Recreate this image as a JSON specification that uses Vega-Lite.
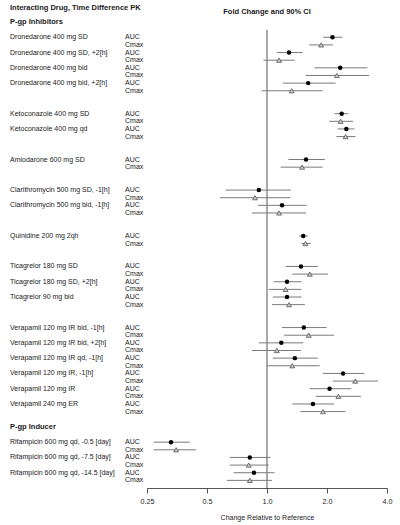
{
  "$schema": "https://vega.github.io/schema/vega-lite/v6.json",
  "padding": {"left": 10, "top": 3, "right": 5, "bottom": 2},
  "background": "white",
  "bounds": "flush",
  "spacing": 22,
  "config": {
    "font": "Liberation Sans",
    "view": {"stroke": null},
    "title": {"fontSize": 7.5, "fontWeight": "bold", "color": "#1a1a1a", "offset": 7}
  },
  "datasets": {
    "pk": [
      {"drug": "Dronedarone 400 mg SD", "pk": "AUC", "est": 2.13, "lo": 1.91, "hi": 2.39},
      {"drug": "Dronedarone 400 mg SD", "pk": "Cmax", "est": 1.87, "lo": 1.63, "hi": 2.14},
      {"drug": "Dronedarone 400 mg SD, +2[h]", "pk": "AUC", "est": 1.29, "lo": 1.12, "hi": 1.51},
      {"drug": "Dronedarone 400 mg SD, +2[h]", "pk": "Cmax", "est": 1.15, "lo": 0.96, "hi": 1.38},
      {"drug": "Dronedarone 400 mg bid", "pk": "AUC", "est": 2.33, "lo": 1.73, "hi": 3.19},
      {"drug": "Dronedarone 400 mg bid", "pk": "Cmax", "est": 2.24, "lo": 1.56, "hi": 3.25},
      {"drug": "Dronedarone 400 mg bid, +2[h]", "pk": "AUC", "est": 1.61, "lo": 1.2, "hi": 2.21},
      {"drug": "Dronedarone 400 mg bid, +2[h]", "pk": "Cmax", "est": 1.33, "lo": 0.94, "hi": 1.9},
      {"drug": "Ketoconazole 400 mg SD", "pk": "AUC", "est": 2.37, "lo": 2.18, "hi": 2.56},
      {"drug": "Ketoconazole 400 mg SD", "pk": "Cmax", "est": 2.34, "lo": 2.05, "hi": 2.7},
      {"drug": "Ketoconazole 400 mg qd", "pk": "AUC", "est": 2.5, "lo": 2.26, "hi": 2.75},
      {"drug": "Ketoconazole 400 mg qd", "pk": "Cmax", "est": 2.48, "lo": 2.23, "hi": 2.78},
      {"drug": "Amiodarone 600 mg SD", "pk": "AUC", "est": 1.57, "lo": 1.28, "hi": 1.95},
      {"drug": "Amiodarone 600 mg SD", "pk": "Cmax", "est": 1.5, "lo": 1.17, "hi": 1.9},
      {"drug": "Clarithromycin 500 mg SD, -1[h]", "pk": "AUC", "est": 0.91, "lo": 0.62, "hi": 1.32},
      {"drug": "Clarithromycin 500 mg SD, -1[h]", "pk": "Cmax", "est": 0.87, "lo": 0.58, "hi": 1.31},
      {"drug": "Clarithromycin 500 mg bid, -1[h]", "pk": "AUC", "est": 1.19, "lo": 0.9, "hi": 1.58},
      {"drug": "Clarithromycin 500 mg bid, -1[h]", "pk": "Cmax", "est": 1.15, "lo": 0.84, "hi": 1.57},
      {"drug": "Quinidine 200 mg 2qh", "pk": "AUC", "est": 1.52, "lo": 1.45, "hi": 1.61},
      {"drug": "Quinidine 200 mg 2qh", "pk": "Cmax", "est": 1.56, "lo": 1.49, "hi": 1.66},
      {"drug": "Ticagrelor 180 mg SD", "pk": "AUC", "est": 1.48, "lo": 1.24, "hi": 1.8},
      {"drug": "Ticagrelor 180 mg SD", "pk": "Cmax", "est": 1.64, "lo": 1.34, "hi": 2.02},
      {"drug": "Ticagrelor 180 mg SD, +2[h]", "pk": "AUC", "est": 1.26, "lo": 1.08, "hi": 1.49},
      {"drug": "Ticagrelor 180 mg SD, +2[h]", "pk": "Cmax", "est": 1.24, "lo": 1.02, "hi": 1.49},
      {"drug": "Ticagrelor 90 mg bid", "pk": "AUC", "est": 1.26, "lo": 1.07, "hi": 1.49},
      {"drug": "Ticagrelor 90 mg bid", "pk": "Cmax", "est": 1.29, "lo": 1.06, "hi": 1.55},
      {"drug": "Verapamil 120 mg IR bid, -1[h]", "pk": "AUC", "est": 1.53, "lo": 1.19, "hi": 1.99},
      {"drug": "Verapamil 120 mg IR bid, -1[h]", "pk": "Cmax", "est": 1.62, "lo": 1.22, "hi": 2.17},
      {"drug": "Verapamil 120 mg IR bid, +2[h]", "pk": "AUC", "est": 1.18, "lo": 0.91, "hi": 1.52},
      {"drug": "Verapamil 120 mg IR bid, +2[h]", "pk": "Cmax", "est": 1.12, "lo": 0.84, "hi": 1.48},
      {"drug": "Verapamil 120 mg IR qd, -1[h]", "pk": "AUC", "est": 1.38, "lo": 1.07, "hi": 1.8},
      {"drug": "Verapamil 120 mg IR qd, -1[h]", "pk": "Cmax", "est": 1.34, "lo": 1.0, "hi": 1.84},
      {"drug": "Verapamil 120 mg IR, -1[h]", "pk": "AUC", "est": 2.41, "lo": 1.91, "hi": 3.08},
      {"drug": "Verapamil 120 mg IR, -1[h]", "pk": "Cmax", "est": 2.77, "lo": 2.14, "hi": 3.61},
      {"drug": "Verapamil 120 mg IR", "pk": "AUC", "est": 2.06, "lo": 1.64, "hi": 2.64},
      {"drug": "Verapamil 120 mg IR", "pk": "Cmax", "est": 2.28, "lo": 1.76, "hi": 2.96},
      {"drug": "Verapamil 240 mg ER", "pk": "AUC", "est": 1.7, "lo": 1.34, "hi": 2.17},
      {"drug": "Verapamil 240 mg ER", "pk": "Cmax", "est": 1.91, "lo": 1.47, "hi": 2.47},
      {"drug": "Rifampicin 600 mg qd, -0.5 [day]", "pk": "AUC", "est": 0.33, "lo": 0.27, "hi": 0.41},
      {"drug": "Rifampicin 600 mg qd, -0.5 [day]", "pk": "Cmax", "est": 0.35, "lo": 0.27, "hi": 0.44},
      {"drug": "Rifampicin 600 mg qd, -7.5 [day]", "pk": "AUC", "est": 0.82, "lo": 0.65, "hi": 1.04},
      {"drug": "Rifampicin 600 mg qd, -7.5 [day]", "pk": "Cmax", "est": 0.81, "lo": 0.65, "hi": 1.02},
      {"drug": "Rifampicin 600 mg qd, -14.5 [day]", "pk": "AUC", "est": 0.86, "lo": 0.68, "hi": 1.09},
      {"drug": "Rifampicin 600 mg qd, -14.5 [day]", "pk": "Cmax", "est": 0.82, "lo": 0.63, "hi": 1.06}
    ],
    "groups": [
      {"header": "P-gp Inhibitors"},
      {"header": "P-gp Inducer"}
    ],
    "reference": [
      {"ref": 1}
    ]
  },
  "hconcat": [
    {
      "title": {"text": "Interacting Drug, Time Difference PK", "anchor": "start"},
      "width": 115,
      "height": 466,
      "layer": [
        {
          "data": {"name": "pk"},
          "transform": [
            {"filter": "datum.pk == 'AUC'"},
            {"calculate": "datum.drug + '|' + datum.pk", "as": "key"}
          ],
          "mark": {"type": "text", "align": "left", "baseline": "middle", "fontSize": 7, "color": "#1a1a1a"},
          "encoding": {
            "x": {"datum": "name", "type": "nominal", "scale": {"type": "point", "domain": ["name", "pk"], "padding": 0}, "axis": null},
            "y": {
              "field": "key", "type": "nominal", "axis": null,
              "scale": {"type": "point", "padding": 0, "domain": [
                "P-gp Inhibitors", "_top",
                "Dronedarone 400 mg SD|AUC", "Dronedarone 400 mg SD|Cmax",
                "Dronedarone 400 mg SD, +2[h]|AUC", "Dronedarone 400 mg SD, +2[h]|Cmax",
                "Dronedarone 400 mg bid|AUC", "Dronedarone 400 mg bid|Cmax",
                "Dronedarone 400 mg bid, +2[h]|AUC", "Dronedarone 400 mg bid, +2[h]|Cmax",
                "_g1", "_g2",
                "Ketoconazole 400 mg SD|AUC", "Ketoconazole 400 mg SD|Cmax",
                "Ketoconazole 400 mg qd|AUC", "Ketoconazole 400 mg qd|Cmax",
                "_g3", "_g4",
                "Amiodarone 600 mg SD|AUC", "Amiodarone 600 mg SD|Cmax",
                "_g5", "_g6",
                "Clarithromycin 500 mg SD, -1[h]|AUC", "Clarithromycin 500 mg SD, -1[h]|Cmax",
                "Clarithromycin 500 mg bid, -1[h]|AUC", "Clarithromycin 500 mg bid, -1[h]|Cmax",
                "_g7", "_g8",
                "Quinidine 200 mg 2qh|AUC", "Quinidine 200 mg 2qh|Cmax",
                "_g9", "_g10",
                "Ticagrelor 180 mg SD|AUC", "Ticagrelor 180 mg SD|Cmax",
                "Ticagrelor 180 mg SD, +2[h]|AUC", "Ticagrelor 180 mg SD, +2[h]|Cmax",
                "Ticagrelor 90 mg bid|AUC", "Ticagrelor 90 mg bid|Cmax",
                "_g11", "_g12",
                "Verapamil 120 mg IR bid, -1[h]|AUC", "Verapamil 120 mg IR bid, -1[h]|Cmax",
                "Verapamil 120 mg IR bid, +2[h]|AUC", "Verapamil 120 mg IR bid, +2[h]|Cmax",
                "Verapamil 120 mg IR qd, -1[h]|AUC", "Verapamil 120 mg IR qd, -1[h]|Cmax",
                "Verapamil 120 mg IR, -1[h]|AUC", "Verapamil 120 mg IR, -1[h]|Cmax",
                "Verapamil 120 mg IR|AUC", "Verapamil 120 mg IR|Cmax",
                "Verapamil 240 mg ER|AUC", "Verapamil 240 mg ER|Cmax",
                "_g13", "P-gp Inducer", "_g14",
                "Rifampicin 600 mg qd, -0.5 [day]|AUC", "Rifampicin 600 mg qd, -0.5 [day]|Cmax",
                "Rifampicin 600 mg qd, -7.5 [day]|AUC", "Rifampicin 600 mg qd, -7.5 [day]|Cmax",
                "Rifampicin 600 mg qd, -14.5 [day]|AUC", "Rifampicin 600 mg qd, -14.5 [day]|Cmax",
                "_bottom"
              ]}
            },
            "text": {"field": "drug"}
          }
        },
        {
          "data": {"name": "pk"},
          "transform": [
            {"calculate": "datum.drug + '|' + datum.pk", "as": "key"}
          ],
          "mark": {"type": "text", "align": "left", "baseline": "middle", "fontSize": 7, "color": "#1a1a1a"},
          "encoding": {
            "x": {"datum": "pk", "type": "nominal"},
            "y": {"field": "key", "type": "nominal"},
            "text": {"field": "pk"}
          }
        },
        {
          "data": {"name": "groups"},
          "mark": {"type": "text", "align": "left", "baseline": "middle", "fontSize": 7.5, "fontWeight": "bold", "color": "#1a1a1a"},
          "encoding": {
            "x": {"datum": "name", "type": "nominal"},
            "y": {"field": "header", "type": "nominal"},
            "text": {"field": "header"}
          }
        }
      ]
    },
    {
      "title": {"text": "Fold Change and 90% CI", "anchor": "middle"},
      "width": 240,
      "height": 466,
      "layer": [
        {
          "data": {"name": "reference"},
          "mark": {"type": "rule", "color": "#555555", "strokeWidth": 1},
          "encoding": {
            "x": {
              "field": "ref", "type": "quantitative",
              "scale": {"type": "log", "base": 2, "domain": [0.25, 4], "nice": false},
              "axis": {
                "values": [0.25, 0.5, 1, 2, 4],
                "labelExpr": "datum.value < 0.4 ? '0.25' : format(datum.value, '.1f')",
                "labelFlush": false,
                "labelOverlap": false,
                "title": "Change Relative to Reference",
                "grid": false,
                "domainColor": "#555555",
                "tickColor": "#555555",
                "tickSize": 5,
                "labelPadding": 4,
                "labelFontSize": 7.2,
                "labelColor": "#1a1a1a",
                "titleFontSize": 7,
                "titleFontWeight": "normal",
                "titleColor": "#1a1a1a",
                "titlePadding": 9
              }
            },
            "y": {
              "datum": "_top", "type": "nominal", "axis": null,
              "scale": {"type": "point", "padding": 0, "domain": [
                "P-gp Inhibitors", "_top",
                "Dronedarone 400 mg SD|AUC", "Dronedarone 400 mg SD|Cmax",
                "Dronedarone 400 mg SD, +2[h]|AUC", "Dronedarone 400 mg SD, +2[h]|Cmax",
                "Dronedarone 400 mg bid|AUC", "Dronedarone 400 mg bid|Cmax",
                "Dronedarone 400 mg bid, +2[h]|AUC", "Dronedarone 400 mg bid, +2[h]|Cmax",
                "_g1", "_g2",
                "Ketoconazole 400 mg SD|AUC", "Ketoconazole 400 mg SD|Cmax",
                "Ketoconazole 400 mg qd|AUC", "Ketoconazole 400 mg qd|Cmax",
                "_g3", "_g4",
                "Amiodarone 600 mg SD|AUC", "Amiodarone 600 mg SD|Cmax",
                "_g5", "_g6",
                "Clarithromycin 500 mg SD, -1[h]|AUC", "Clarithromycin 500 mg SD, -1[h]|Cmax",
                "Clarithromycin 500 mg bid, -1[h]|AUC", "Clarithromycin 500 mg bid, -1[h]|Cmax",
                "_g7", "_g8",
                "Quinidine 200 mg 2qh|AUC", "Quinidine 200 mg 2qh|Cmax",
                "_g9", "_g10",
                "Ticagrelor 180 mg SD|AUC", "Ticagrelor 180 mg SD|Cmax",
                "Ticagrelor 180 mg SD, +2[h]|AUC", "Ticagrelor 180 mg SD, +2[h]|Cmax",
                "Ticagrelor 90 mg bid|AUC", "Ticagrelor 90 mg bid|Cmax",
                "_g11", "_g12",
                "Verapamil 120 mg IR bid, -1[h]|AUC", "Verapamil 120 mg IR bid, -1[h]|Cmax",
                "Verapamil 120 mg IR bid, +2[h]|AUC", "Verapamil 120 mg IR bid, +2[h]|Cmax",
                "Verapamil 120 mg IR qd, -1[h]|AUC", "Verapamil 120 mg IR qd, -1[h]|Cmax",
                "Verapamil 120 mg IR, -1[h]|AUC", "Verapamil 120 mg IR, -1[h]|Cmax",
                "Verapamil 120 mg IR|AUC", "Verapamil 120 mg IR|Cmax",
                "Verapamil 240 mg ER|AUC", "Verapamil 240 mg ER|Cmax",
                "_g13", "P-gp Inducer", "_g14",
                "Rifampicin 600 mg qd, -0.5 [day]|AUC", "Rifampicin 600 mg qd, -0.5 [day]|Cmax",
                "Rifampicin 600 mg qd, -7.5 [day]|AUC", "Rifampicin 600 mg qd, -7.5 [day]|Cmax",
                "Rifampicin 600 mg qd, -14.5 [day]|AUC", "Rifampicin 600 mg qd, -14.5 [day]|Cmax",
                "_bottom"
              ]}
            },
            "y2": {"datum": "_bottom"}
          }
        },
        {
          "data": {"name": "pk"},
          "transform": [
            {"calculate": "datum.drug + '|' + datum.pk", "as": "key"}
          ],
          "mark": {"type": "rule", "color": "#7a7a7a", "strokeWidth": 1},
          "encoding": {
            "x": {"field": "lo", "type": "quantitative"},
            "x2": {"field": "hi"},
            "y": {"field": "key", "type": "nominal"}
          }
        },
        {
          "data": {"name": "pk"},
          "transform": [
            {"filter": "datum.pk == 'AUC'"},
            {"calculate": "datum.drug + '|' + datum.pk", "as": "key"}
          ],
          "mark": {"type": "circle", "size": 20, "color": "#000000", "opacity": 1},
          "encoding": {
            "x": {"field": "est", "type": "quantitative"},
            "y": {"field": "key", "type": "nominal"}
          }
        },
        {
          "data": {"name": "pk"},
          "transform": [
            {"filter": "datum.pk == 'Cmax'"},
            {"calculate": "datum.drug + '|' + datum.pk", "as": "key"}
          ],
          "mark": {"type": "point", "shape": "triangle-up", "size": 24, "filled": true, "fill": "#cccccc", "stroke": "#444444", "strokeWidth": 0.7, "opacity": 1},
          "encoding": {
            "x": {"field": "est", "type": "quantitative"},
            "y": {"field": "key", "type": "nominal"}
          }
        }
      ]
    }
  ]
}
